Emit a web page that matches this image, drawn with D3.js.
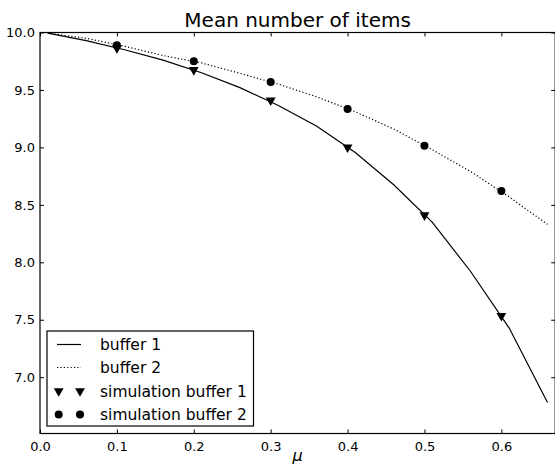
<!DOCTYPE html>
<html>
<head>
<meta charset="utf-8">
<script src="https://cdn.jsdelivr.net/npm/d3@7"></script>
<style>
  html, body { margin: 0; padding: 0; background: #fff; }
  svg { display: block; }
  text { font-family: "DejaVu Sans", sans-serif; fill: #000; }
</style>
</head>
<body>
<svg id="chart" width="555" height="470"></svg>
<script>
// ---- data ----
const muLine = [0.01, 0.06, 0.11, 0.16, 0.21, 0.26, 0.31, 0.36, 0.41, 0.46, 0.51, 0.56, 0.61, 0.66];
const buffer1 = [9.995, 9.93, 9.85, 9.76, 9.65, 9.52, 9.365, 9.185, 8.955, 8.675, 8.35, 7.92, 7.43, 6.78];
const buffer2 = [9.995, 9.95, 9.88, 9.80, 9.735, 9.645, 9.55, 9.44, 9.31, 9.16, 8.98, 8.79, 8.57, 8.33];
const muSim = [0.1, 0.2, 0.3, 0.4, 0.5, 0.6];
const sim1 = [9.865, 9.674, 9.41, 9.0, 8.41, 7.535];
const sim2 = [9.89, 9.75, 9.57, 9.335, 9.015, 8.62];
const xTicks = [0.0, 0.1, 0.2, 0.3, 0.4, 0.5, 0.6];
const yTicks = [7.0, 7.5, 8.0, 8.5, 9.0, 9.5, 10.0];
const xLim = [0, 0.67];
const yLim = [6.51, 10.0];
const title = "Mean number of items";
const xLabel = "\u03bc";
const legendLabels = ["buffer 1", "buffer 2", "simulation buffer 1", "simulation buffer 2"];

// ---- layout ----
const L = 40, R = 555.2, T = 32.5, B = 433.5;
const svg = d3.select("#chart");
const x = d3.scaleLinear().domain(xLim).range([L, R]);
const y = d3.scaleLinear().domain(yLim).range([B, T]);

// lines
const line = d3.line().x(d => x(d[0])).y(d => y(d[1]));
svg.append("path")
  .attr("d", line(d3.zip(muLine, buffer1)))
  .attr("fill", "none").attr("stroke", "#000").attr("stroke-width", 1.2);
svg.append("path")
  .attr("d", line(d3.zip(muLine, buffer2)))
  .attr("fill", "none").attr("stroke", "#000").attr("stroke-width", 1.2)
  .attr("stroke-dasharray", "1.2,2.2");

const triSym = d3.symbol().type(d3.symbolTriangle).size(42);
function triangle(g, cx, cy) {
  g.append("path").attr("d", triSym())
    .attr("transform", `translate(${cx},${cy}) rotate(180)`)
    .attr("fill", "#000");
}
function circle(g, cx, cy) {
  g.append("circle").attr("cx", cx).attr("cy", cy).attr("r", 4).attr("fill", "#000");
}
const marks = svg.append("g");
muSim.forEach((m, i) => triangle(marks, x(m), y(sim1[i])));
muSim.forEach((m, i) => circle(marks, x(m), y(sim2[i])));

// frame
svg.append("rect").attr("x", L).attr("y", T).attr("width", R - L).attr("height", B - T)
  .attr("fill", "none").attr("stroke", "#000").attr("stroke-width", 1.2);

// axes (ticks inward)
const tl = 4;
const xb = svg.append("g").attr("transform", `translate(0,${B})`)
  .call(d3.axisBottom(x).tickValues(xTicks).tickFormat(d3.format(".1f")).tickSizeInner(-tl).tickSizeOuter(0).tickPadding(8));
const xt = svg.append("g").attr("transform", `translate(0,${T})`)
  .call(d3.axisTop(x).tickValues(xTicks).tickFormat("").tickSizeInner(-tl).tickSizeOuter(0));
const yl = svg.append("g").attr("transform", `translate(${L},0)`)
  .call(d3.axisLeft(y).tickValues(yTicks).tickFormat(d3.format(".1f")).tickSizeInner(-tl).tickSizeOuter(0).tickPadding(5));
const yr = svg.append("g").attr("transform", `translate(${R},0)`)
  .call(d3.axisRight(y).tickValues(yTicks).tickFormat("").tickSizeInner(-tl).tickSizeOuter(0));
[xb, xt, yl, yr].forEach(g => {
  g.select(".domain").remove();
  g.selectAll("line").attr("stroke", "#000");
  g.selectAll("text").attr("font-family", "DejaVu Sans").attr("font-size", 13).attr("fill", "#000");
});

// title and label
svg.append("text").attr("x", (L + R) / 2).attr("y", 26.5).attr("text-anchor", "middle")
  .attr("font-size", 20).text(title);
svg.append("text").attr("x", (L + R) / 2).attr("y", 461).attr("text-anchor", "middle")
  .attr("font-size", 16).attr("font-style", "italic").text(xLabel);

// legend
const lg = svg.append("g");
lg.append("rect").attr("x", 47).attr("y", 331).attr("width", 206.5).attr("height", 95)
  .attr("fill", "#fff").attr("stroke", "#000").attr("stroke-width", 1.2);
const rowY = [344.5, 367.5, 391, 414.5];
lg.append("line").attr("x1", 57).attr("x2", 81).attr("y1", rowY[0]).attr("y2", rowY[0])
  .attr("stroke", "#000").attr("stroke-width", 1.2);
lg.append("line").attr("x1", 57).attr("x2", 81).attr("y1", rowY[1]).attr("y2", rowY[1])
  .attr("stroke", "#000").attr("stroke-width", 1.2).attr("stroke-dasharray", "1.2,2.2");
triangle(lg, 58.7, rowY[2]); triangle(lg, 80, rowY[2]);
circle(lg, 58.7, rowY[3]); circle(lg, 80, rowY[3]);
legendLabels.forEach((t, i) => {
  lg.append("text").attr("x", 100).attr("y", rowY[i]).attr("dy", "0.36em")
    .attr("font-size", 15.5).text(t);
});
</script>
</body>
</html>
